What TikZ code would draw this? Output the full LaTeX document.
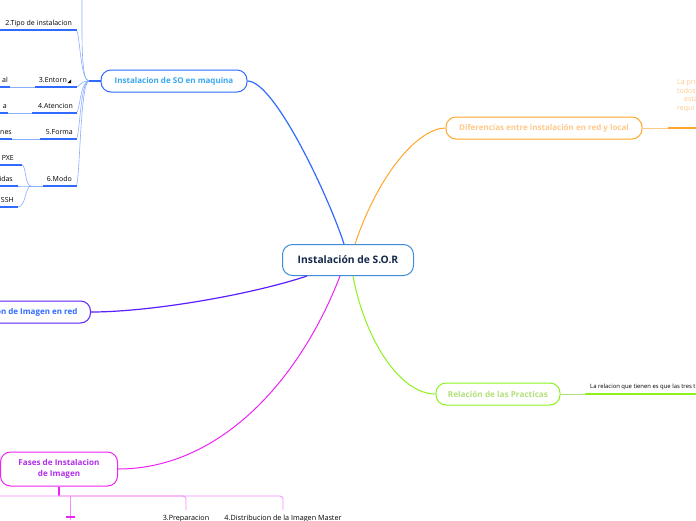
\documentclass[tikz,border=0pt]{standalone}
\usepackage{fontspec}
\setmainfont{Open Sans}
\usetikzlibrary{positioning}

\definecolor{sorblue}{HTML}{2F6BFF}
\definecolor{sorlight}{HTML}{8AAEFF}
\definecolor{sorcyan}{HTML}{39A7EF}
\definecolor{sornavy}{HTML}{14284B}
\definecolor{sorframe}{HTML}{3D8BD9}
\definecolor{sorviolet}{HTML}{5A1FFF}
\definecolor{sorpink}{HTML}{EE22F5}
\definecolor{sorpinklt}{HTML}{F58CF8}
\definecolor{sorpurple}{HTML}{B32DEB}
\definecolor{sororange}{HTML}{FFA62B}
\definecolor{sororangelt}{HTML}{FFC98A}
\definecolor{sorgreen}{HTML}{8CF21E}
\definecolor{sorgreenlt}{HTML}{B3E07A}

\tikzset{
  topic/.style={draw, rounded corners=10pt, fill=white, line width=1pt, inner sep=0pt,
    minimum height=22pt, font=\bfseries\fontsize{8}{9}\selectfont},
  leaf/.style={inner sep=0pt, anchor=base east, font=\fontsize{7}{8}\selectfont},
  uline/.style={line width=1.6pt, sorblue},
  tent/.style={line width=0.6pt, sorlight},
}

\begin{document}
\begin{tikzpicture}[x=1pt,y=-1pt]
  \useasboundingbox (0,0) rectangle (696,520);
  \clip (0,0) rectangle (696,520);
  % central topic and main branches
  \node[topic, draw=sorframe, text=sornavy, minimum width=131pt, minimum height=31pt,
        font=\bfseries\fontsize{10.3}{12}\selectfont] (sor) at (348,260) {Instalación de S.O.R};
  \node[topic, draw=sorblue, text=sorcyan, minimum width=146pt] (maq) at (174,81) {Instalacion de SO en maquina};
  \node[topic, draw=sororange, text=sororangelt, minimum width=196pt,
        font=\bfseries\fontsize{8}{9}\selectfont] (dif) at (544,128) {Diferencias entre instalación en red y local};
  \node[topic, draw=sorgreen, text=sorgreenlt, minimum width=124pt,
        font=\bfseries\fontsize{8.2}{9}\selectfont] (rel) at (498,394) {Relación de las Practicas};
  \node[topic, draw=sorviolet, text=sorblue, inner xsep=13pt, anchor=east] (red) at (91,312) {Instalacion de Imagen en red};
  \node[topic, draw=sorpink, text=sorpurple, minimum width=117pt, minimum height=34pt, align=center,
        font=\bfseries\fontsize{8.1}{11}\selectfont] (fas) at (59,469) {Fases de Instalacion\\de Imagen};

  \draw[sorblue, line width=1.2pt] ([xshift=-4pt]sor.north) .. controls (330,200) and (275,81) .. (maq.east);
  \draw[sororange, line width=1pt] ([xshift=7pt]sor.north) .. controls (380,170) and (420,128) .. (dif.west);
  \draw[sorgreen, line width=1pt] ([xshift=5pt]sor.south) .. controls (365,340) and (400,394) .. (rel.west);
  \draw[sorviolet, line width=1.2pt] ([xshift=-41pt]sor.south) .. controls (250,295) and (150,312) .. (red.east);
  \draw[sorpink, line width=1pt] ([xshift=-8pt]sor.south) .. controls (300,380) and (220,469) .. (fas.east);

  % Diferencias
  \coordinate (difcut) at (668,128);
  \draw[sororangelt, line width=1pt] (dif.east) -- (difcut);
  \draw[sororange, line width=1.6pt] (difcut) -- (700,128);
  \node[inner sep=0pt, anchor=north west, align=left, text=sororangelt,
        font=\fontsize{7}{8.7}\selectfont] (difnote) at (677,79) {La pri\\todos\\\hspace*{7pt}esta\\requi};

  % Relacion
  \coordinate (relcut) at (585,394);
  \draw[sorgreenlt, line width=1pt] (rel.east) -- (relcut);
  \draw[sorgreen, line width=1.6pt] (relcut) -- (700,394);
  \node[inner sep=0pt, anchor=base west, font=\fontsize{5.9}{7}\selectfont] (relnote) at (590,388)
    {La relacion que tienen es que las tres t};

  % SO en maquina
  \coordinate (hubmaq) at (89,81);
  \draw[sorblue, line width=1.5pt] (maq.west) -- (hubmaq);
  \draw[tent] (hubmaq) .. controls (81,81) and (82,40) .. (82,-2);
  \foreach \y/\a in {30/0,87/35,113/32,139/40,186/43}{
    \draw[tent] (hubmaq) .. controls (80,81) and (80,\y) .. (76,\y);
    \draw[uline] (\a,\y) -- (77,\y);
  }
  \node[leaf] (tipo) at (72,25) {2.Tipo de instalacion};
  \node[leaf] (ent) at (67,82) {3.Entorn};
  \fill (67.5,83) -- (71,83) -- (71,79.5) -- cycle;
  \node[leaf] (ate) at (73,108) {4.Atencion};
  \node[leaf] (for) at (73,134) {5.Forma};
  \node[leaf] (mod) at (72,181) {6.Modo};

  % leaves on the left edge
  \draw[tent] (35,87) -- (10,87);
  \draw[uline] (-2,87) -- (10,87);
  \node[leaf] (entl) at (8,82) {al};
  \draw[tent] (32,113) -- (8,113);
  \draw[uline] (-2,113) -- (8,113);
  \node[leaf] (atel) at (7,108) {a};
  \draw[tent] (40,139) -- (12,139);
  \draw[uline] (-2,139) -- (12,139);
  \node[leaf] (forl) at (12,134) {nes};
  \coordinate (hubmod) at (31,186);
  \draw[tent] (43,186) -- (hubmod);
  \foreach \y/\e in {165/22,186/18,207/18}{
    \draw[tent] (hubmod) .. controls (25,186) and (26,\y) .. (\e,\y);
    \draw[uline] (-2,\y) -- (\e,\y);
  }
  \node[leaf] (pxe) at (14,160) {PXE};
  \node[leaf] (ida) at (13,181) {idas};
  \node[leaf] (ssh) at (14,202) {SSH};

  % Fases
  \coordinate (fashub) at (58,496);
  \draw[sorpink, line width=2pt] (fas.south) -- (fas.south |- fashub);
  \draw[sorpinklt, line width=0.8pt, rounded corners=3pt] (-2,496) -| (283,510);
  \draw[sorpinklt, line width=0.8pt, rounded corners=3pt] (fashub) -| (186,510);
  \draw[sorpinklt, line width=0.8pt] (70,496) -- (70,520);
  \draw[sorpink, line width=1.6pt] (66,517) -- (75,517);
  \node[inner sep=0pt, anchor=base, font=\fontsize{7.2}{8}\selectfont] (prep) at (186,520.5) {3.Preparacion};
  \node[inner sep=0pt, anchor=base, font=\fontsize{7.2}{8}\selectfont] (dist) at (283,520.5)
    {4.Distribucion de la Imagen Master};
\end{tikzpicture}
\end{document}
